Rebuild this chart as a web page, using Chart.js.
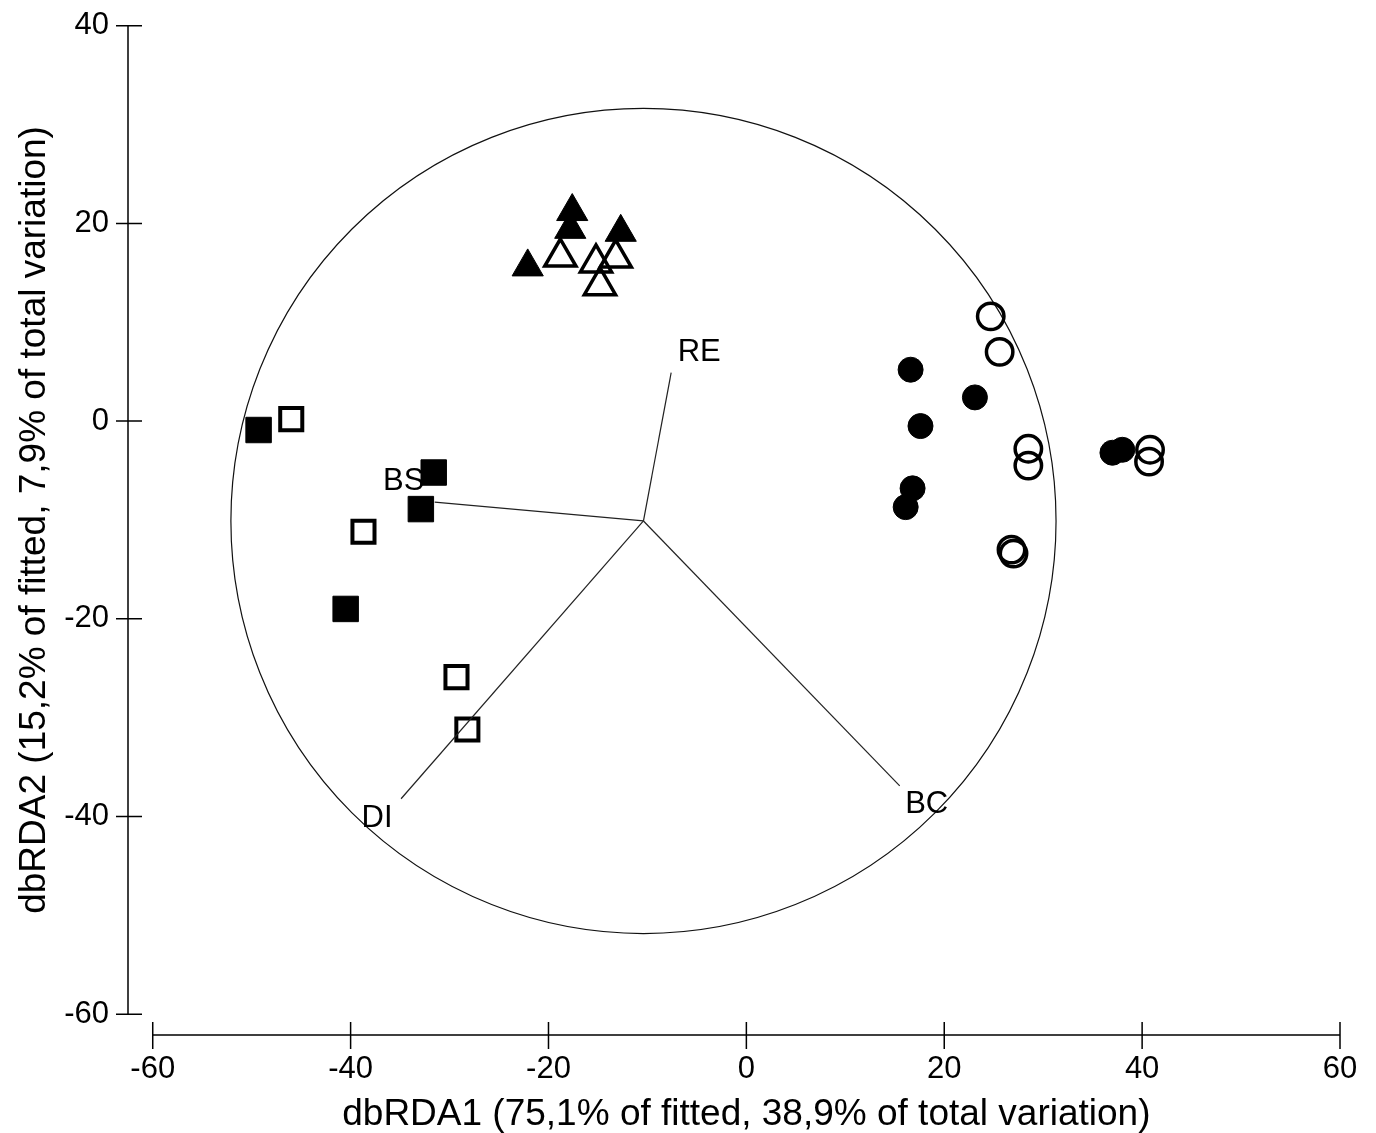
<!DOCTYPE html>
<html>
<head>
<meta charset="utf-8">
<script src="https://cdn.jsdelivr.net/npm/chart.js@4"></script>
<style>
  body { margin: 0; background: #fff; }
  canvas { display: block; }
</style>
</head>
<body>
<canvas id="dbrdaChart" width="1376" height="1133"></canvas>
<script>
// Sample scores (dbRDA1, dbRDA2)
const filledSquaresX = [-49.3, -31.6, -32.9, -40.5];
const filledSquaresY = [-0.9, -5.2, -8.9, -19.0];
const openSquaresX = [-46.0, -38.7, -29.3, -28.2];
const openSquaresY = [0.2, -11.2, -25.9, -31.2];
const filledTrianglesX = [-22.1, -17.6, -17.8, -12.7];
const filledTrianglesY = [15.6, 21.2, 19.4, 19.1];
const openTrianglesX = [-18.8, -15.2, -13.2, -14.8];
const openTrianglesY = [16.6, 16.0, 16.5, 13.7];
const filledCirclesX = [16.6, 23.1, 17.6, 16.8, 16.1, 37.0, 38.0];
const filledCirclesY = [5.2, 2.4, -0.5, -6.8, -8.7, -3.2, -2.9];
const openCirclesX = [24.7, 25.6, 28.5, 28.5, 26.8, 27.0, 40.8, 40.7];
const openCirclesY = [10.6, 7.0, -2.8, -4.5, -13.0, -13.4, -2.9, -4.1];

// Predictor vectors, drawn from the centre of the correlation circle
const vectorLabels = ['RE', 'BS', 'DI', 'BC'];
const vectorX = [-7.6, -31.5, -34.9, 15.5];
const vectorY = [4.9, -8.2, -38.2, -36.9];
const circleCenterX = -10.4;
const circleCenterY = -10.1;
const circleRadius = 41.7;

const xTickValues = [-60, -40, -20, 0, 20, 40, 60];
const yTickValues = [-60, -40, -20, 0, 20, 40];
const xTitle = 'dbRDA1 (75,1% of fitted, 38,9% of total variation)';
const yTitle = 'dbRDA2 (15,2% of fitted, 7,9% of total variation)';

const FONT = "'Liberation Sans', Arial, sans-serif";

function toPoints(xs, ys) {
    return xs.map((x, i) => ({ x: x, y: ys[i] }));
}

function markerSet(label, xs, ys, style, radius, filled, border) {
    return {
        label: label,
        data: toPoints(xs, ys),
        pointStyle: style,
        pointRadius: radius,
        backgroundColor: filled ? '#000' : 'rgba(0,0,0,0)',
        borderColor: '#000',
        borderWidth: border,
        showLine: false,
        clip: false
    };
}

const vectorSets = vectorLabels.map((name, i) => ({
    label: name,
    data: [{ x: circleCenterX, y: circleCenterY }, { x: vectorX[i], y: vectorY[i] }],
    showLine: true,
    borderColor: '#222',
    borderWidth: 1.2,
    pointRadius: 0,
    clip: false
}));

// pixel offsets of vector labels from the vector tips
const labelOffsets = { RE: [28, -20], BS: [-31, -21], DI: [-24, 20], BC: [27, 19] };

const extrasPlugin = {
    id: 'extras',
    beforeDatasetsDraw(chart) {
        const ctx = chart.ctx;
        const xs = chart.scales.x, ys = chart.scales.y;
        // correlation circle
        const cx = xs.getPixelForValue(circleCenterX);
        const cy = ys.getPixelForValue(circleCenterY);
        const r = xs.getPixelForValue(circleCenterX + circleRadius) - cx;
        ctx.save();
        ctx.strokeStyle = '#111';
        ctx.lineWidth = 1.2;
        ctx.beginPath();
        ctx.arc(cx, cy, r, 0, Math.PI * 2);
        ctx.stroke();
        ctx.restore();
    },
    afterDraw(chart) {
        const ctx = chart.ctx;
        const xs = chart.scales.x, ys = chart.scales.y;
        const area = chart.chartArea;
        const x0 = xs.getPixelForValue(xTickValues[0]);
        const x1 = xs.getPixelForValue(xTickValues[xTickValues.length - 1]);
        const y0 = ys.getPixelForValue(yTickValues[0]);
        const y1 = ys.getPixelForValue(yTickValues[yTickValues.length - 1]);
        ctx.save();
        ctx.strokeStyle = '#000';
        ctx.lineWidth = 1.5;
        ctx.beginPath();
        // y axis
        ctx.moveTo(area.left, y0);
        ctx.lineTo(area.left, y1);
        yTickValues.forEach(v => {
            const p = ys.getPixelForValue(v);
            ctx.moveTo(area.left - 12, p);
            ctx.lineTo(area.left + 14, p);
        });
        // x axis
        ctx.moveTo(x0, area.bottom);
        ctx.lineTo(x1, area.bottom);
        xTickValues.forEach(v => {
            const p = xs.getPixelForValue(v);
            ctx.moveTo(p, area.bottom - 13);
            ctx.lineTo(p, area.bottom + 14);
        });
        ctx.stroke();

        ctx.fillStyle = '#000';
        // axis titles, centred on the axis lines
        ctx.font = '37px ' + FONT;
        ctx.textAlign = 'center';
        ctx.textBaseline = 'alphabetic';
        ctx.fillText(xTitle, (x0 + x1) / 2, area.bottom + 90);
        ctx.save();
        ctx.translate(area.left - 83, (y0 + y1) / 2);
        ctx.rotate(-Math.PI / 2);
        ctx.fillText(yTitle, 0, 0);
        ctx.restore();

        // vector labels
        ctx.font = '31px ' + FONT;
        ctx.textBaseline = 'middle';
        vectorLabels.forEach((name, i) => {
            const off = labelOffsets[name];
            ctx.fillText(name, xs.getPixelForValue(vectorX[i]) + off[0], ys.getPixelForValue(vectorY[i]) + off[1]);
        });
        ctx.restore();
    }
};

function initChart() {
    const ctx = document.getElementById('dbrdaChart').getContext('2d');
    new Chart(ctx, {
        type: 'scatter',
        data: {
            datasets: [
                ...vectorSets,
                markerSet('filled squares', filledSquaresX, filledSquaresY, 'rect', 18, true, 1),
                markerSet('open squares', openSquaresX, openSquaresY, 'rect', 15.6, false, 4),
                markerSet('filled triangles', filledTrianglesX, filledTrianglesY, 'triangle', 18, true, 1),
                markerSet('open triangles', openTrianglesX, openTrianglesY, 'triangle', 18, false, 3.5),
                markerSet('filled circles', filledCirclesX, filledCirclesY, 'circle', 12.5, true, 1),
                markerSet('open circles', openCirclesX, openCirclesY, 'circle', 13.2, false, 3.5)
            ]
        },
        options: {
            responsive: false,
            animation: false,
            events: [],
            layout: { padding: { left: 0, top: 25.7, right: 36, bottom: 0 } },
            plugins: {
                legend: { display: false },
                tooltip: { enabled: false }
            },
            scales: {
                x: {
                    type: 'linear',
                    min: -62.5,
                    max: 60,
                    afterBuildTicks: scale => { scale.ticks = xTickValues.map(v => ({ value: v })); },
                    afterFit: scale => { scale.height = 98; },
                    grid: { display: false, drawTicks: false },
                    border: { display: false },
                    ticks: { color: '#000', font: { family: FONT, size: 31 }, padding: 16, maxRotation: 0 }
                },
                y: {
                    type: 'linear',
                    min: -62.1,
                    max: 40,
                    afterBuildTicks: scale => { scale.ticks = yTickValues.map(v => ({ value: v })); },
                    afterFit: scale => {
                        scale.width = 128;
                        scale.paddingTop = 0;
                        scale.paddingBottom = 0;
                    },
                    grid: { display: false, drawTicks: false },
                    border: { display: false },
                    ticks: { color: '#000', font: { family: FONT, size: 31 }, padding: 19 }
                }
            }
        },
        plugins: [extrasPlugin]
    });
}

document.addEventListener('DOMContentLoaded', initChart);
</script>
</body>
</html>
